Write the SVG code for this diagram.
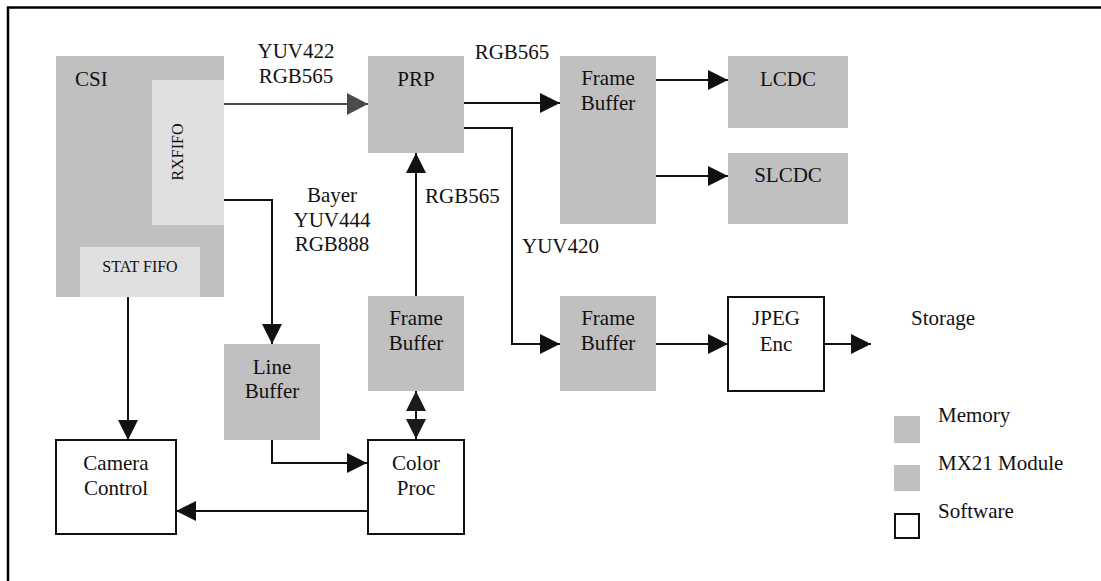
<svg xmlns="http://www.w3.org/2000/svg" width="1101" height="581" viewBox="0 0 1101 581">
<style>
text{font-family:"Liberation Serif","Times New Roman",serif;font-size:21px;fill:#111;}
.c{text-anchor:middle;}
.s{font-size:16px;}
.g{fill:#c0c0c0;}
.l{fill:#e0e0e0;}
.w{fill:#fff;stroke:#111;stroke-width:2;}
.cn{fill:none;stroke:#111;stroke-width:2;}
</style>
<defs>
<marker id="ah" markerUnits="userSpaceOnUse" markerWidth="20" markerHeight="20" refX="20" refY="10" orient="auto"><path d="M0,0 L20,10 L0,20 z" fill="#111"/></marker>
<marker id="ahs" markerUnits="userSpaceOnUse" markerWidth="20" markerHeight="20" refX="20" refY="10" orient="auto-start-reverse"><path d="M0,0 L20,10 L0,20 z" fill="#1a1a1a"/></marker>
<marker id="ag" markerUnits="userSpaceOnUse" markerWidth="22" markerHeight="22" refX="21" refY="11" orient="auto"><path d="M0,0 L21,11 L0,22 z" fill="#4a4a4a"/></marker>
</defs>
<rect width="1101" height="581" fill="#fff"/>
<path d="M8,581 V7.5 H1101" fill="none" stroke="#000" stroke-width="2.5"/>

<g id="csi">
<rect class="g" x="56" y="56" width="168" height="241"/>
<text x="75" y="86">CSI</text>
</g>
<g id="rxfifo">
<rect class="l" x="152" y="80" width="72" height="145"/>
<text class="c s" transform="translate(183,152) rotate(-90)">RXFIFO</text>
</g>
<g id="statfifo">
<rect class="l" x="80" y="247" width="120" height="50"/>
<text class="c s" x="140" y="272">STAT FIFO</text>
</g>
<g id="prp">
<rect class="g" x="368" y="56" width="96" height="97"/>
<text class="c" x="416" y="86">PRP</text>
</g>
<g id="fb1">
<rect class="g" x="560" y="56" width="96" height="168"/>
<text class="c" x="608" y="85">Frame</text>
<text class="c" x="608" y="110">Buffer</text>
</g>
<g id="lcdc">
<rect class="g" x="728" y="56" width="120" height="72"/>
<text class="c" x="788" y="86">LCDC</text>
</g>
<g id="slcdc">
<rect class="g" x="728" y="153" width="120" height="71"/>
<text class="c" x="788" y="182">SLCDC</text>
</g>
<g id="fb2">
<rect class="g" x="368" y="296" width="96" height="95"/>
<text class="c" x="416" y="325">Frame</text>
<text class="c" x="416" y="350">Buffer</text>
</g>
<g id="fb3">
<rect class="g" x="560" y="296" width="96" height="95"/>
<text class="c" x="608" y="325">Frame</text>
<text class="c" x="608" y="350">Buffer</text>
</g>
<g id="jpeg">
<rect class="w" x="728" y="297" width="96" height="94"/>
<text class="c" x="776" y="325">JPEG</text>
<text class="c" x="776" y="351">Enc</text>
</g>
<g id="linebuf">
<rect class="g" x="224" y="344" width="96" height="96"/>
<text class="c" x="272" y="374">Line</text>
<text class="c" x="272" y="398">Buffer</text>
</g>
<g id="camctl">
<rect class="w" x="56" y="440" width="120" height="94"/>
<text class="c" x="116" y="470">Camera</text>
<text class="c" x="116" y="495">Control</text>
</g>
<g id="colorproc">
<rect class="w" x="368" y="440" width="96" height="94"/>
<text class="c" x="416" y="470">Color</text>
<text class="c" x="416" y="495">Proc</text>
</g>
<g id="storage">
<text x="911" y="325">Storage</text>
</g>
<g id="legend">
<rect class="g" x="894" y="416" width="26" height="27"/>
<text x="938" y="422">Memory</text>
<rect class="g" x="894" y="465" width="26" height="26"/>
<text x="938" y="470">MX21 Module</text>
<rect class="w" x="895" y="514" width="24" height="24"/>
<text x="938" y="518">Software</text>
</g>

<g id="connectors">
<path d="M224,104 H368" fill="none" stroke="#4a4a4a" stroke-width="2" marker-end="url(#ag)"/>
<path class="cn" d="M224,200 H272 V344" marker-end="url(#ah)"/>
<path class="cn" d="M416,296 V153" marker-end="url(#ah)"/>
<path class="cn" d="M416,391 V439" marker-start="url(#ahs)" marker-end="url(#ahs)"/>
<path class="cn" d="M272,440 V463 H367" marker-end="url(#ah)"/>
<path class="cn" d="M367,511 H176" marker-end="url(#ah)"/>
<path class="cn" d="M128,297 V440" marker-end="url(#ah)"/>
<path class="cn" d="M464,103 H560" marker-end="url(#ah)"/>
<path class="cn" d="M464,128 H512 V344 H560" marker-end="url(#ah)"/>
<path class="cn" d="M656,80 H728" marker-end="url(#ah)"/>
<path class="cn" d="M656,176 H728" marker-end="url(#ah)"/>
<path class="cn" d="M656,344 H728" marker-end="url(#ah)"/>
<path class="cn" d="M824,344 H871" marker-end="url(#ah)"/>
<text class="c" x="296" y="58">YUV422</text>
<text class="c" x="296" y="83">RGB565</text>
<text class="c" x="332" y="202">Bayer</text>
<text class="c" x="332" y="227">YUV444</text>
<text class="c" x="332" y="251">RGB888</text>
<text x="425" y="203">RGB565</text>
<text class="c" x="512" y="59">RGB565</text>
<text x="522" y="253">YUV420</text>
</g>
</svg>
